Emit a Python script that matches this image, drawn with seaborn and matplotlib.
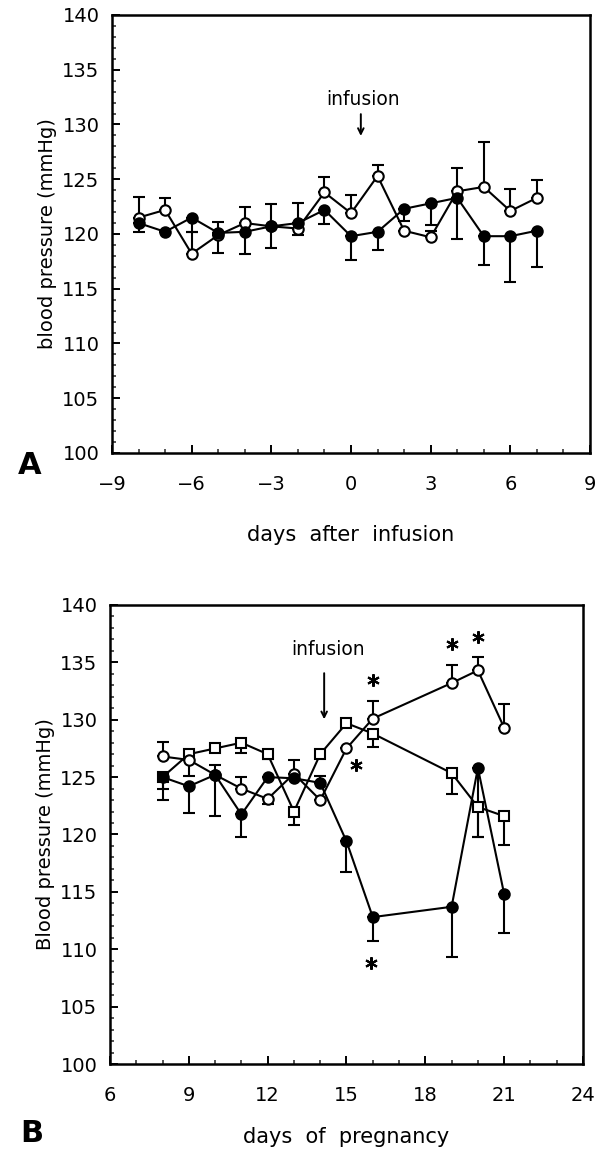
import numpy as np
import pandas as pd
import seaborn as sns
import matplotlib
matplotlib.use("Agg")
import matplotlib.pyplot as plt
from matplotlib.ticker import MultipleLocator

# ---------------- Panel A data ----------------
days_a = [-8, -7, -6, -5, -4, -3, -2, -1, 0, 1, 2, 3, 4, 5, 6, 7]
open_a = [121.5, 122.2, 118.2, 119.9, 121.0, 120.7, 120.5, 123.8, 121.9, 125.3, 120.3, 119.7, 123.9, 124.3, 122.1, 123.3]
open_a_up = [1.9, 1.1, 2.0, 1.2, 1.5, 2.0, 0, 1.4, 1.7, 1.0, 0, 0.6, 2.1, 4.1, 2.0, 1.6]
open_a_dn = [0, 0, 0, 0, 0, 0, 0.6, 0, 0, 0, 0, 0, 0, 0, 0, 0]
filled_a = [121.0, 120.2, 121.5, 120.1, 120.2, 120.7, 121.0, 122.2, 119.8, 120.2, 122.3, 122.8, 123.3, 119.8, 119.8, 120.3]
filled_a_up = [0, 0, 0, 0, 0, 0, 1.8, 0, 0, 0, 0, 0, 0, 0, 0, 0]
filled_a_dn = [0.8, 0, 1.3, 1.8, 2.0, 2.0, 0, 1.3, 2.2, 1.7, 1.1, 2.0, 3.8, 2.6, 4.2, 3.3]

# ---------------- Panel B data ----------------
days_b = [8, 9, 10, 11, 12, 13, 14, 15, 16, 19, 20, 21]
filled_b = [125.0, 124.2, 125.2, 121.75, 125.0, 124.9, 124.5, 119.4, 112.8, 113.7, 125.8, 114.8]
filled_b_up = [0, 0, 0, 0, 0, 0, 0.6, 0, 0, 0, 0, 0]
filled_b_dn = [2.0, 2.3, 3.6, 1.95, 0, 0, 0, 2.7, 2.1, 4.4, 6.0, 3.4]
open_b = [126.8, 126.5, 125.2, 124.0, 123.1, 125.3, 123.0, 127.5, 130.1, 133.2, 134.3, 129.3]
open_b_up = [1.3, 0, 0.9, 1.0, 0, 1.2, 0, 0, 1.5, 1.6, 1.2, 2.1]
open_b_dn = [0, 0, 0, 0, 0.4, 0, 0, 0, 0, 0, 0, 0]
square_b = [125.0, 127.0, 127.5, 128.0, 127.0, 122.0, 127.0, 129.7, 128.8, 125.35, 122.4, 121.6]
square_b_dn = [1.0, 1.9, 0, 0.9, 0.45, 1.2, 0, 0, 1.2, 1.8, 2.6, 2.5]

# significance asterisks (panel B)
star_x = [15.35, 15.95, 16.0, 19.0, 20.0]
star_y = [126.1, 108.8, 133.45, 136.6, 137.2]

sns.set_style("ticks")
plt.rcParams['font.family'] = ['DejaVu Sans']
plt.rcParams['text.color'] = 'black'
plt.rcParams['axes.labelcolor'] = 'black'

fig = plt.figure(figsize=(5.99, 11.55), dpi=100)
axA = fig.add_axes([112/599, 1-453/1155, (590-112)/599, (453-15)/1155])
axB = fig.add_axes([110/599, 1-1064/1155, (583-110)/599, (1064-605)/1155])

LW = 1.5
MS = 7.5


def draw_series(ax, x, y, up, dn, marker, filled):
    df = pd.DataFrame({"x": x, "y": y})
    ax.errorbar(x, y, yerr=[dn, up], fmt='none', ecolor='black',
                elinewidth=LW, capsize=4, capthick=LW, zorder=2)
    sns.lineplot(data=df, x="x", y="y", ax=ax, color='black', lw=LW,
                 marker=marker, markersize=MS,
                 markerfacecolor=('black' if filled else 'white'),
                 markeredgecolor='black', markeredgewidth=LW, zorder=3)


def style_axis(ax):
    for s in ax.spines.values():
        s.set_linewidth(1.8)
        s.set_color('black')
        s.set_visible(True)
    ax.yaxis.set_major_locator(MultipleLocator(5))
    ax.yaxis.set_minor_locator(MultipleLocator(1))
    ax.xaxis.set_major_locator(MultipleLocator(3))
    ax.xaxis.set_minor_locator(MultipleLocator(1))
    ax.tick_params(which='major', direction='in', length=6, width=1.4,
                   labelsize=14, colors='black')
    ax.tick_params(which='minor', direction='in', length=3, width=1.1)
    ax.tick_params(axis='y', which='major', pad=9)
    ax.tick_params(axis='x', which='major', pad=16)
    ax.set_ylim(100, 140)


# ---------------- Panel A ----------------
draw_series(axA, days_a, open_a, open_a_up, open_a_dn, 'o', False)
draw_series(axA, days_a, filled_a, filled_a_up, filled_a_dn, 'o', True)
style_axis(axA)
axA.set_xlim(-9, 9)
axA.set_xlabel("days  after  infusion", fontsize=15, labelpad=22)
axA.set_ylabel("blood pressure (mmHg)", fontsize=14, labelpad=4)
axA.annotate("", xy=(0.37, 128.7), xytext=(0.37, 131.2),
             arrowprops=dict(arrowstyle='->', color='black', lw=1.4))
axA.text(0.45, 132.3, "infusion", fontsize=13.5, ha='center', va='center')
fig.text(18/599, 1-465/1155, "A", fontsize=22, fontweight='bold', ha='left', va='center')

# ---------------- Panel B ----------------
draw_series(axB, days_b, square_b, [0]*len(days_b), square_b_dn, 's', False)
draw_series(axB, days_b, open_b, open_b_up, open_b_dn, 'o', False)
draw_series(axB, days_b, filled_b, filled_b_up, filled_b_dn, 'o', True)
axB.plot(star_x, star_y, linestyle='none', marker=(6, 2, 0), markersize=9,
         markeredgewidth=1.5, color='black', zorder=4)
style_axis(axB)
axB.set_xlim(6, 24)
axB.set_xlabel("days  of  pregnancy", fontsize=15, labelpad=16)
axB.set_ylabel("Blood pressure (mmHg)", fontsize=14, labelpad=4)
axB.annotate("", xy=(14.15, 129.8), xytext=(14.15, 134.3),
             arrowprops=dict(arrowstyle='->', color='black', lw=1.4))
axB.text(14.3, 136.1, "infusion", fontsize=13.5, ha='center', va='center')
fig.text(20/599, 1-1134/1155, "B", fontsize=22, fontweight='bold', ha='left', va='center')

fig.savefig("out.png", dpi=100)
